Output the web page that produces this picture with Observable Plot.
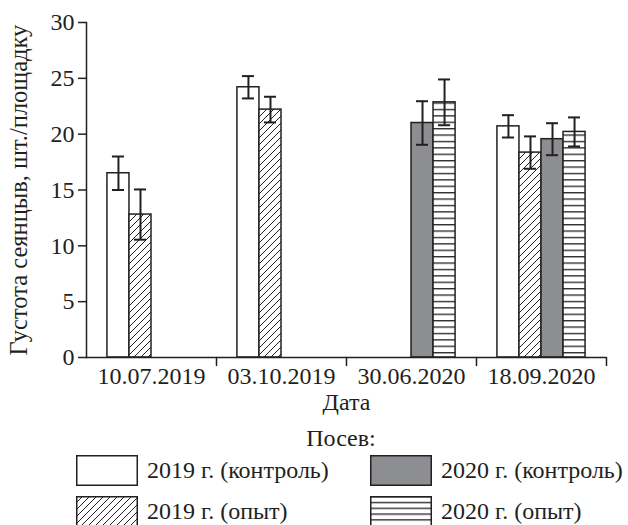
<!DOCTYPE html>
<html><head><meta charset="utf-8">
<script src="https://cdn.jsdelivr.net/npm/d3@7"></script>
<script src="https://cdn.jsdelivr.net/npm/@observablehq/plot@0.6"></script>
<style>
body{margin:0;background:#fff;font-family:"Liberation Serif","Times New Roman",serif;color:#231f20}
#legend{position:relative;width:628px;height:105px}
#legend .t{position:absolute;font-size:24px;line-height:28px;white-space:nowrap}
#legend svg{position:absolute;overflow:visible}
</style></head><body><div id="chart"></div><div id="legend"></div>
<script>
const dates = ["10.07.2019", "03.10.2019", "30.06.2020", "18.09.2020"];
const series = ["2019 г. (контроль)", "2019 г. (опыт)", "2020 г. (контроль)", "2020 г. (опыт)"];
const control2019 = [16.5, 24.2, null, 20.7];
const control2019Err = [1.5, 1.0, null, 1.0];
const trial2019 = [12.8, 22.2, null, 18.35];
const trial2019Err = [2.25, 1.15, null, 1.45];
const control2020 = [null, null, 21.0, 19.55];
const control2020Err = [null, null, 1.95, 1.43];
const trial2020 = [null, null, 22.85, 20.2];
const trial2020Err = [null, null, 2.05, 1.3];
const yTicks = [0, 5, 10, 15, 20, 25, 30];
const yLabel = "Густота сеянцыв, шт./площадку";
const xLabel = "Дата";
const legendTitle = "Посев:";

const ink = "#231f20";
const fills = ["white", "url(#diag)", "#8d8e91", "url(#horiz)"];
const vals = [control2019, trial2019, control2020, trial2020];
const errs = [control2019Err, trial2019Err, control2020Err, trial2020Err];
const rows = [];
dates.forEach((d, i) => vals.forEach((v, s) => {
  if (v[i] != null) rows.push({date: d, series: series[s], value: v[i], err: errs[s][i]});
}));

const tickShape = {draw(context, l) { context.moveTo(0, 0); context.lineTo(0, -l); }};

const chart = Plot.plot({
  width: 628, height: 420,
  marginLeft: 85, marginRight: 21, marginTop: 22, marginBottom: 63,
  style: {fontFamily: "Liberation Serif, Times New Roman, serif", fontSize: "24px", color: ink, background: "white", overflow: "visible"},
  fx: {domain: dates, padding: 0, label: xLabel},
  x: {domain: series, paddingInner: 0, paddingOuter: 0.95, axis: null, round: false},
  y: {domain: [0, 30], ticks: yTicks, label: yLabel},
  color: {domain: series, range: fills},
  marks: [
    Plot.barY(rows, {fx: "date", x: "series", y: "value", fill: "series", stroke: ink, strokeWidth: 1.5}),
    Plot.ruleX(rows, {fx: "date", x: "series", y1: d => d.value - d.err, y2: d => d.value + d.err, stroke: ink, strokeWidth: 2}),
    Plot.tickY(rows, {fx: "date", x: "series", y: d => d.value + d.err, insetLeft: 5, insetRight: 5, stroke: ink, strokeWidth: 2}),
    Plot.tickY(rows, {fx: "date", x: "series", y: d => d.value - d.err, insetLeft: 5, insetRight: 5, stroke: ink, strokeWidth: 2}),
    Plot.ruleY([0], {stroke: ink, strokeWidth: 1.5}),
    Plot.frame({anchor: "left", fx: () => dates[0], stroke: ink, strokeWidth: 1.5}),
    Plot.vector([0], {frameAnchor: "bottom-right", length: 8, rotate: 180, anchor: "start", shape: tickShape, stroke: ink, strokeWidth: 1.5}),
    Plot.axisY({ticks: yTicks, tickSize: 8, tickPadding: 4, label: null, fontSize: 24, stroke: ink, strokeWidth: 1.5}),
    Plot.axisY({ticks: [], tickSize: 0, label: yLabel, labelAnchor: "center", labelArrow: "none", labelOffset: 77, fontSize: 24.5}),
    Plot.axisFx({anchor: "bottom", tickSize: 0, tickPadding: 9, label: xLabel, labelAnchor: "center", labelArrow: "none", labelOffset: 52, fontSize: 24})
  ]
});
document.getElementById("chart").appendChild(chart);

function addPatterns(svgEl) {
  const defs = d3.select(svgEl).insert("defs", ":first-child");
  const diag = defs.append("pattern").attr("id", "diag").attr("patternUnits", "userSpaceOnUse").attr("width", 7).attr("height", 7);
  diag.append("rect").attr("width", 7).attr("height", 7).attr("fill", "white");
  diag.append("path").attr("d", "M-1,8 L8,-1 M-1,1 L1,-1 M6,8 L8,6").attr("stroke", ink).attr("stroke-width", 1);
  const hz = defs.append("pattern").attr("id", "horiz").attr("patternUnits", "userSpaceOnUse").attr("width", 10).attr("height", 6.4);
  hz.append("rect").attr("width", 10).attr("height", 6.4).attr("fill", "white");
  hz.append("line").attr("x1", 0).attr("x2", 10).attr("y1", 0.7).attr("y2", 0.7).attr("stroke", ink).attr("stroke-width", 1.3);
  const hz2 = defs.append("pattern").attr("id", "horiz2").attr("patternUnits", "userSpaceOnUse").attr("width", 10).attr("height", 5.8);
  hz2.append("rect").attr("width", 10).attr("height", 5.8).attr("fill", "white");
  hz2.append("line").attr("x1", 0).attr("x2", 10).attr("y1", 0.7).attr("y2", 0.7).attr("stroke", ink).attr("stroke-width", 1.3);
}
const svgRoot = chart.tagName.toLowerCase() === "svg" ? chart : chart.querySelector("svg");
addPatterns(svgRoot);

// legend
const legend = d3.select("#legend");
legend.append("div").attr("class", "t").style("left", "341px").style("top", "4px").style("transform", "translateX(-50%)").text(legendTitle);
const legendFills = ["white", "url(#diag)", "#8d8e91", "url(#horiz2)"];
const pos = [[76, 35], [76, 76], [370, 35], [370, 76]];
series.forEach((s, i) => {
  const [lx, ly] = pos[i];
  const sw = legend.append("svg").attr("width", 62).attr("height", 31).style("left", lx + "px").style("top", ly + "px");
  sw.append("rect").attr("x", 0.75).attr("y", 0.75).attr("width", 60.5).attr("height", 29.5)
    .attr("fill", legendFills[i]).attr("stroke", ink).attr("stroke-width", 1.5);
  legend.append("div").attr("class", "t").style("left", (lx + 71) + "px").style("top", (ly + 1) + "px").text(s);
});
</script></body></html>
